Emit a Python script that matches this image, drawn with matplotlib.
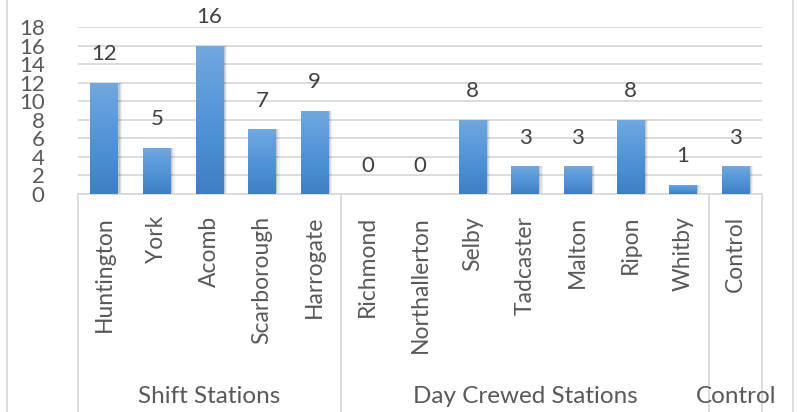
import numpy as np
import matplotlib
matplotlib.use("Agg")
import matplotlib.pyplot as plt
import matplotlib.transforms as mtransforms
from matplotlib.colors import LinearSegmentedColormap

plt.rcParams['font.family'] = ['Lato', 'DejaVu Sans']

# data
stations = ["Huntington", "York", "Acomb", "Scarborough", "Harrogate",
            "Richmond", "Northallerton", "Selby", "Tadcaster", "Malton",
            "Ripon", "Whitby", "Control"]
counts = [12, 5, 16, 7, 9, 0, 0, 8, 3, 3, 8, 1, 3]
groups = ["Shift Stations", "Day Crewed Stations", "Control"]
group_sizes = [5, 7, 1]
yticks = [0, 2, 4, 6, 8, 10, 12, 14, 16, 18]

text_col = "#595959"
grid_col = "#D9D9D9"

fig = plt.figure(figsize=(7.97, 4.12), dpi=100)
ax = fig.add_axes([78/797, 1-194/412, (762-78)/797, (194-27)/412])

x = np.arange(len(stations))
bars = ax.bar(x, counts, width=0.53, color="#5B9BD5", zorder=3)

# soft shadow to the right of each bar
for b in bars:
    h = b.get_height()
    if h <= 0:
        continue
    for k, a in [(0.07, 0.06), (0.045, 0.08), (0.025, 0.10)]:
        ax.bar(b.get_x() + b.get_width() / 2 + k, h, width=b.get_width(),
               color="#000000", alpha=a, lw=0, zorder=2)

# vertical gradient inside each bar (lighter top, darker bottom)
cmap = LinearSegmentedColormap.from_list("bar", ["#3F7FC4", "#4A8ED3", "#5C9BDB", "#72A8DE"])
grad = np.linspace(0, 1, 256).reshape(-1, 1)
for b in bars:
    h = b.get_height()
    if h <= 0:
        continue
    x0 = b.get_x()
    w = b.get_width()
    im = ax.imshow(grad, extent=[x0, x0 + w, 0, h], origin="lower", cmap=cmap,
                   aspect="auto", zorder=4)
    im.set_clip_path(b)

# data labels
for xi, v in zip(x, counts):
    ax.annotate(str(v), (xi, v), xytext=(0, 20.5), textcoords="offset points",
                ha="center", va="center", fontsize=16, color="#404040")

ax.set_xlim(-0.5, len(stations) - 0.5)
ax.set_ylim(0, 18)
ax.set_yticks(yticks)
ax.set_yticklabels([str(t) for t in yticks], fontsize=16, color=text_col)
ax.tick_params(axis="y", length=0, pad=24)
ax.set_xticks([])
ax.yaxis.grid(True, color=grid_col, lw=1.3, zorder=0)
for s in ["top", "right", "left"]:
    ax.spines[s].set_visible(False)
ax.spines["bottom"].set_color(grid_col)
ax.spines["bottom"].set_linewidth(1.3)

trans = mtransforms.blended_transform_factory(ax.transData, ax.transAxes)
ax_h = 194 - 27
bottom = -(412 - 194) / ax_h

# category labels
for xi, name in zip(x, stations):
    ax.text(xi, -(216 - 194) / ax_h, name, rotation=90, ha="center", va="top",
            fontsize=16.5, color=text_col, transform=trans)

# group boxes and labels
edges = np.concatenate([[0], np.cumsum(group_sizes)]) - 0.5
for e in edges:
    ax.plot([e, e], [0, bottom], color=grid_col, lw=1.3, transform=trans, clip_on=False)
for i, g in enumerate(groups):
    ax.text((edges[i] + edges[i + 1]) / 2, -(397 - 194) / ax_h, g, ha="center",
            va="center", fontsize=17.5, color=text_col, transform=trans)

# chart area border (left/right visible)
fig.add_artist(plt.Line2D([7/797, 7/797], [0, 1], color=grid_col, lw=1.3))
fig.add_artist(plt.Line2D([793/797, 793/797], [0, 1], color=grid_col, lw=1.3))

fig.savefig("out.png", dpi=100)
